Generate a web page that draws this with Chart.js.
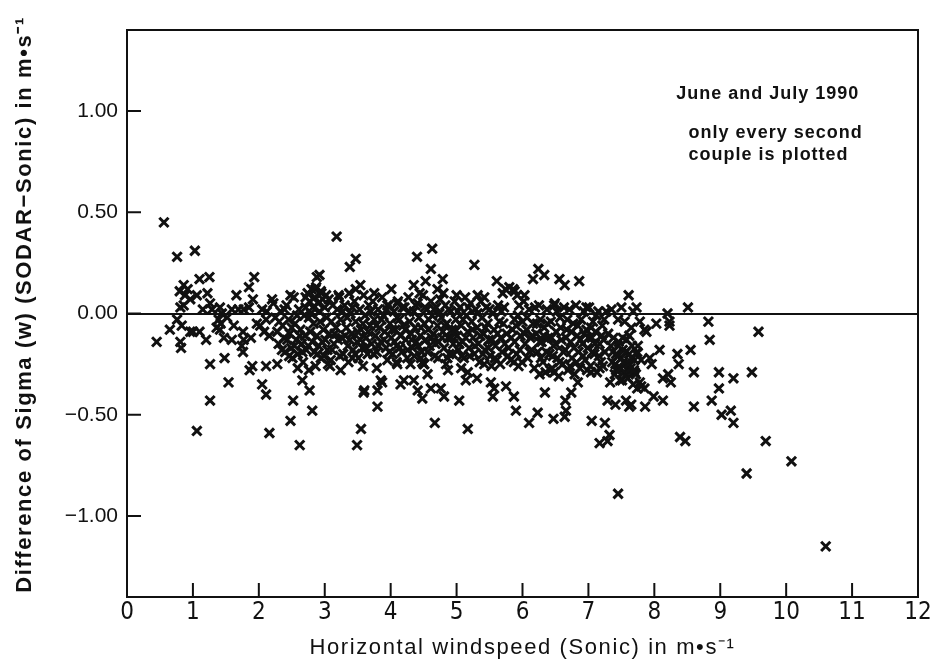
<!DOCTYPE html>
<html>
<head>
<meta charset="utf-8">
<title>Sigma (w) difference against horizontal windspeed</title>
<script src="https://cdn.jsdelivr.net/npm/chart.js@4.4.0/dist/chart.umd.min.js"></script>
<style>
  html, body { margin: 0; padding: 0; background: #fff; }
  canvas { display: block; }
</style>
</head>
<body>
<canvas id="scatterChart" width="933" height="669"></canvas>
<script>
// axis ticks
var windTicks = [0, 1, 2, 3, 4, 5, 6, 7, 8, 9, 10, 11, 12];
var sigmaTicks = [-1, -0.5, 0, 0.5, 1];

// couples [windspeed, sigma(w) SODAR - Sonic], split by windspeed range
var couplesLight = [
    [0.56,0.45],[0.45,-0.14],[0.76,0.28],[1.03,0.31],[1.10,0.17],[1.25,0.18],[0.86,0.14],[0.80,0.11],
    [0.88,0.09],[0.96,0.07],[1.06,0.09],[1.22,0.10],[0.81,0.03],[0.86,0.04],[1.26,0.05],[1.29,0.02],
    [1.41,0.03],[1.44,0.00],[1.39,-0.03],[1.42,-0.05],[1.36,-0.07],[1.41,-0.08],[1.47,-0.12],[1.59,-0.13],
    [1.66,0.09],[1.59,0.02],[1.69,0.02],[1.77,0.02],[1.85,0.03],[1.85,0.13],[1.93,0.18],[1.91,0.07],
    [2.05,0.02],[2.12,0.01],[2.20,0.07],[0.76,-0.03],[0.65,-0.08],[0.83,-0.06],[0.81,-0.14],[0.82,-0.17],
    [0.96,-0.09],[1.00,-0.09],[1.10,-0.09],[1.20,-0.13],[1.76,-0.09],[1.77,-0.13],[1.74,-0.16],[1.76,-0.19],
    [1.26,-0.25],[1.48,-0.22],[1.54,-0.34],[1.26,-0.43],[1.06,-0.58],[1.86,-0.28],[1.90,-0.26],[2.11,-0.26],
    [2.05,-0.35],[2.11,-0.40],[2.16,-0.59],[2.02,-0.06],[2.11,-0.03],[2.16,-0.11],[1.52,-0.02],[1.62,-0.06],
    [1.97,-0.05],[1.88,-0.12],[2.08,-0.09],[0.92,0.12],[1.15,0.02]
];

var couplesModerate = [
    [2.28,-0.25],[2.59,-0.27],[2.76,-0.28],[2.66,-0.33],[2.77,-0.38],[2.52,-0.43],[2.81,-0.48],[2.48,-0.53],
    [2.62,-0.65],[3.09,-0.23],[3.08,-0.26],[3.24,-0.28],[3.42,-0.22],[3.60,-0.38],[3.55,-0.57],[3.49,-0.65],
    [3.79,-0.27],[3.85,-0.33],[3.80,-0.38],[3.80,-0.46],[4.15,-0.35],[4.09,-0.24],[3.87,-0.34],[3.18,0.38],
    [3.47,0.27],[3.38,0.23],[2.88,0.18],[2.92,0.19],[3.54,0.14],[4.01,0.12],[2.48,0.09],[2.71,0.08],
    [2.86,0.12],[2.94,0.11],[3.21,0.09],[3.47,0.12],[3.75,0.10],[3.95,0.04],[4.10,0.05],[3.59,-0.39],
    [2.22,0.05],[2.25,-0.02],[2.28,-0.09],[2.30,-0.15],[2.33,0.01],[2.36,-0.06],[2.38,-0.12],[2.40,-0.19],
    [2.42,0.04],[2.45,-0.03],[2.47,-0.10],[2.49,-0.17],[2.51,-0.22],[2.53,0.08],[2.55,-0.05],[2.57,-0.13],
    [2.59,-0.20],[2.61,0.02],[2.63,-0.08],[2.65,-0.15],[2.67,-0.24],[2.69,-0.01],[2.70,-0.11],[2.72,-0.18],
    [2.74,0.10],[2.77,0.06],[2.80,0.12],[2.82,0.03],[2.85,0.08],[2.87,0.13],[2.90,0.05],[2.92,0.01],
    [2.95,0.10],[2.97,0.07],[3.00,0.03],[3.02,0.09],[2.78,-0.09],[2.81,-0.14],[2.84,-0.19],[2.88,-0.11],
    [2.91,-0.16],[2.94,-0.22],[2.98,-0.08],[3.01,-0.13],[3.04,-0.18],[3.07,-0.10],[3.10,-0.04],[3.12,0.04],
    [3.14,-0.15],[3.17,-0.07],[3.19,0.02],[2.76,-0.02],[3.05,-0.25],[2.86,-0.26],
    [3.22,0.08],[3.24,-0.03],[3.26,-0.12],[3.28,-0.20],[3.30,0.04],[3.33,-0.07],[3.35,-0.16],[3.37,0.10],
    [3.39,0.00],[3.41,-0.10],[3.43,-0.18],[3.45,0.06],[3.47,-0.04],[3.49,-0.14],[3.51,-0.22],[3.53,0.02],
    [3.55,-0.08],[3.57,-0.17],[3.59,0.09],[3.61,-0.01],[3.63,-0.12],[3.65,-0.20],[3.67,0.04],[3.69,-0.06],
    [3.36,-0.24],[3.58,-0.26],
    [3.71,-0.15],[3.73,0.06],[3.75,-0.03],[3.77,-0.11],[3.79,-0.19],[3.81,0.02],[3.83,-0.07],[3.85,-0.14],
    [3.87,0.08],[3.89,-0.01],[3.91,-0.09],[3.93,-0.17],[3.95,-0.23],[3.97,0.04],[3.99,-0.05],[4.01,-0.12],
    [4.03,-0.20],[4.05,0.01],[4.07,-0.08],[4.09,-0.16],[4.11,0.06],[4.13,-0.03],[4.15,-0.11],[4.17,-0.19],
    [4.19,-0.06],
    [2.31,-0.04],[2.35,-0.18],[2.39,0.02],[2.43,-0.13],[2.46,-0.21],[2.50,-0.07],[2.54,-0.16],[2.58,-0.01],
    [2.62,-0.11],[2.66,-0.19],[2.71,0.03],[2.75,-0.16],[2.79,0.00],[2.83,-0.05],[2.89,-0.20],[2.93,-0.04],
    [2.96,-0.14],[2.99,-0.21],[3.03,-0.02],[3.06,0.07],[3.11,-0.18],[3.15,-0.10],[3.20,-0.13],[3.23,-0.21],
    [3.27,0.01],[3.31,-0.11],[3.34,-0.02],[3.38,-0.13],[3.42,0.03],[3.46,-0.20],[3.50,-0.09],[3.54,-0.13],
    [3.58,-0.05],[3.62,-0.17],[3.66,-0.09],[3.70,0.01],[3.74,-0.20],[3.78,-0.06],[3.82,-0.16],[3.86,-0.03],
    [3.90,-0.13],[3.94,0.02],[3.98,-0.19],[4.02,-0.08],[4.06,-0.14],[4.10,-0.02],[4.14,-0.17],[4.18,0.03]
];

var couplesFresh = [
    [4.63,0.32],[4.40,0.28],[4.61,0.22],[5.27,0.24],[4.53,0.16],[4.79,0.17],[5.61,0.16],[4.35,0.14],
    [4.71,0.12],[5.32,0.09],[5.88,0.11],[4.10,-0.25],[4.20,-0.33],[4.35,-0.33],[4.41,-0.38],[4.48,-0.42],
    [4.56,-0.30],[4.61,-0.37],[4.76,-0.37],[4.81,-0.41],[4.84,-0.25],[4.87,-0.28],[5.04,-0.43],[5.14,-0.33],
    [5.31,-0.32],[4.67,-0.54],[5.17,-0.57],[5.52,-0.34],[5.57,-0.37],[5.55,-0.41],[5.75,-0.36],[5.87,-0.41],
    [5.90,-0.48],[4.46,-0.22],[4.51,-0.25],[5.07,-0.27],[5.17,-0.29],[5.42,-0.25],[6.10,-0.54],[6.03,0.09],
    [6.16,0.17],
    [4.21,0.03],[4.23,-0.13],[4.25,-0.22],[4.27,0.08],[4.29,-0.04],[4.31,-0.10],[4.33,-0.17],[4.35,0.01],
    [4.37,-0.07],[4.39,-0.14],[4.41,0.05],[4.43,-0.02],[4.45,-0.11],[4.47,-0.19],[4.49,0.09],[4.51,-0.05],
    [4.53,-0.13],[4.55,0.02],[4.57,-0.08],[4.59,-0.16],[4.61,0.06],[4.63,-0.01],[4.65,-0.10],[4.67,-0.21],
    [4.69,0.03],[4.30,-0.25],[4.50,-0.25],[4.44,0.10],
    [4.71,-0.06],[4.73,-0.14],[4.75,0.07],[4.77,-0.02],[4.79,-0.09],[4.81,-0.17],[4.83,0.04],[4.85,-0.05],
    [4.87,-0.12],[4.89,-0.20],[4.91,0.01],[4.93,-0.08],[4.95,-0.15],[4.97,0.06],[4.99,-0.03],[5.01,-0.11],
    [5.03,-0.18],[5.05,0.03],[5.07,-0.06],[5.09,-0.14],[5.11,-0.22],[5.13,0.08],[5.15,-0.01],[5.17,-0.09],
    [5.19,-0.17],[4.80,0.10],[5.00,0.09],
    [5.21,0.05],[5.23,-0.04],[5.25,-0.12],[5.27,-0.20],[5.29,0.02],[5.31,-0.07],[5.33,-0.15],[5.35,-0.24],
    [5.37,0.06],[5.39,-0.02],[5.41,-0.10],[5.43,-0.18],[5.45,0.03],[5.47,-0.05],[5.49,-0.13],[5.51,-0.21],
    [5.53,-0.26],[5.55,0.00],[5.57,-0.08],[5.59,-0.16],[5.61,-0.23],[5.63,0.04],[5.65,-0.04],[5.67,-0.12],
    [5.69,-0.19],[5.42,0.08],
    [5.70,0.10],[5.74,0.12],[5.80,0.13],[5.86,0.12],[5.92,0.09],[5.95,0.04],[5.93,-0.01],[5.88,-0.03],
    [5.72,0.03],[5.71,-0.05],[5.76,-0.10],[5.79,-0.17],[5.82,-0.23],[5.85,-0.08],[5.88,-0.14],[5.91,-0.20],
    [5.94,-0.26],[5.97,-0.11],[6.00,-0.04],[6.02,0.06],[6.04,-0.15],[6.06,-0.08],[6.08,-0.22],[6.10,0.02],
    [6.12,-0.12],[6.14,-0.18],[6.16,-0.05],[6.18,-0.27],[6.19,0.03],
    [4.22,-0.08],[4.26,-0.18],[4.28,0.01],[4.32,-0.13],[4.36,-0.21],[4.38,0.04],[4.42,-0.16],[4.46,-0.07],
    [4.48,-0.24],[4.52,0.03],[4.56,-0.19],[4.58,-0.03],[4.62,-0.12],[4.66,0.02],[4.68,-0.15],[4.72,-0.22],
    [4.74,0.00],[4.78,-0.12],[4.82,-0.06],[4.86,-0.22],[4.88,0.02],[4.92,-0.12],[4.94,-0.20],[4.98,-0.08],
    [5.02,0.01],[5.04,-0.15],[5.08,-0.21],[5.10,-0.03],[5.14,-0.12],[5.18,0.03],[5.20,-0.21],[5.24,-0.08],
    [5.28,-0.16],[5.32,0.00],[5.36,-0.11],[5.40,-0.20],[5.44,-0.07],[5.48,-0.17],[5.50,0.02],[5.54,-0.13],
    [5.58,-0.22],[5.62,-0.10],[5.66,-0.25],[5.68,0.01],[5.73,-0.15],[5.78,-0.21],[5.83,-0.12],[5.87,-0.24],
    [5.90,-0.06],[5.96,-0.18],[5.99,-0.24],[6.03,-0.10],[6.07,-0.02],[6.11,-0.19],[6.15,-0.11]
];

var couplesStrong = [
    [6.24,0.22],[6.33,0.19],[6.56,0.17],[6.64,0.14],[6.86,0.16],[7.61,0.09],[7.50,0.03],[7.73,0.03],
    [6.48,0.04],[6.97,0.03],[7.27,0.01],[6.23,-0.49],[6.34,-0.39],[6.47,-0.52],[6.64,-0.51],[6.66,-0.48],
    [6.65,-0.43],[6.74,-0.39],[6.84,-0.34],[7.05,-0.53],[7.25,-0.54],[7.32,-0.60],[7.29,-0.63],[7.17,-0.64],
    [7.33,-0.34],[7.51,-0.33],[7.29,-0.43],[7.41,-0.45],[7.57,-0.43],[7.62,-0.46],[7.74,-0.37],[6.26,-0.30],
    [6.48,-0.29],[7.04,-0.29],[7.17,-0.27],[7.42,-0.28],[7.62,-0.29],[7.45,-0.16],[7.52,-0.12],[7.62,-0.11],
    [7.45,-0.89],
    [6.21,-0.10],[6.23,-0.19],[6.25,0.04],[6.27,-0.03],[6.29,-0.14],[6.31,-0.24],[6.33,-0.07],[6.35,-0.29],
    [6.37,0.02],[6.39,-0.12],[6.41,-0.20],[6.43,-0.04],[6.45,-0.27],[6.47,-0.16],[6.49,0.05],[6.51,-0.09],
    [6.53,-0.22],[6.55,-0.31],[6.57,-0.02],[6.59,-0.13],[6.61,-0.25],[6.63,0.03],[6.65,-0.18],[6.67,-0.08],
    [6.69,-0.28],
    [6.71,0.02],[6.73,-0.14],[6.75,-0.22],[6.77,-0.05],[6.79,-0.30],[6.81,0.04],[6.83,-0.11],[6.85,-0.19],
    [6.87,-0.27],[6.89,-0.03],[6.91,-0.15],[6.93,0.01],[6.95,-0.23],[6.97,-0.08],[6.99,-0.17],[7.01,0.03],
    [7.03,-0.26],[7.05,-0.12],[7.07,-0.04],[7.09,-0.20],[7.11,-0.09],[7.13,-0.29],[7.15,0.01],[7.17,-0.15],
    [7.19,-0.24],[7.21,-0.06],[7.23,-0.13],[7.25,-0.19],
    [7.34,-0.16],[7.36,-0.24],[7.38,-0.12],[7.40,-0.30],[7.42,-0.20],[7.44,-0.27],[7.46,-0.14],[7.48,-0.33],
    [7.50,-0.22],[7.52,-0.18],[7.54,-0.29],[7.56,-0.25],[7.58,-0.13],[7.60,-0.32],[7.62,-0.20],[7.64,-0.27],
    [7.66,-0.16],[7.68,-0.35],[7.70,-0.23],[7.72,-0.30],[7.35,0.02],[7.55,-0.04],[7.65,-0.07],[7.45,-0.03],
    [6.22,-0.05],[6.26,-0.14],[6.28,-0.22],[6.32,-0.11],[6.36,-0.19],[6.38,-0.05],[6.42,-0.28],[6.44,-0.12],
    [6.46,-0.21],[6.50,-0.15],[6.52,0.01],[6.56,-0.24],[6.58,-0.07],[6.62,-0.19],[6.66,-0.12],[6.68,-0.03],
    [6.72,-0.26],[6.74,-0.09],[6.78,-0.17],[6.82,-0.24],[6.84,-0.06],[6.88,-0.13],[6.92,-0.21],[6.94,-0.10],
    [6.98,-0.28],[7.00,-0.12],[7.04,-0.07],[7.06,-0.19],[7.10,-0.15],[7.12,-0.01],[7.16,-0.21],[7.20,-0.11],
    [7.22,-0.26],[7.24,-0.03],[7.30,-0.10],[7.37,-0.19],[7.41,-0.25],[7.45,-0.21],[7.49,-0.27],[7.53,-0.24],
    [7.57,-0.19],[7.61,-0.25],[7.65,-0.22],[7.69,-0.28],[7.73,-0.20]
];

var couplesGale = [
    [8.51,0.03],[8.20,0.00],[8.82,-0.04],[8.84,-0.13],[9.58,-0.09],[8.03,-0.05],[8.23,-0.04],[8.23,-0.06],
    [7.78,-0.04],[7.85,-0.08],[8.08,-0.18],[8.35,-0.20],[8.55,-0.18],[8.37,-0.25],[8.60,-0.29],[8.98,-0.29],
    [9.20,-0.32],[9.48,-0.29],[8.98,-0.37],[8.87,-0.43],[8.60,-0.46],[9.02,-0.50],[9.16,-0.48],[9.20,-0.54],
    [8.39,-0.61],[8.47,-0.63],[9.40,-0.79],[7.65,-0.45],[7.86,-0.46],[8.13,-0.43],[7.75,-0.16],[7.74,-0.19],
    [7.80,-0.23],[7.93,-0.22],[7.96,-0.25],[7.70,-0.29],[7.78,-0.34],[7.80,-0.36],[7.85,-0.37],[7.99,-0.41],
    [8.13,-0.32],[8.21,-0.30],[8.25,-0.34],[7.68,0.01],[9.69,-0.63],[10.08,-0.73],[10.60,-1.15],[7.88,-0.09]
];

var noteTitle = 'June and July 1990';
var noteLines = ['only every second', 'couple is plotted'];
var xTitle = 'Horizontal windspeed (Sonic) in m\u2022s\u207B\u00B9';
var yTitle = 'Difference of Sigma (w) (SODAR\u2212Sonic) in m\u2022s\u207B\u00B9';

var ink = '#111';
var sansFamily = '"Liberation Sans", Arial, sans-serif';

function sigmaLabel(v) {
    return (v < 0 ? '\u2212' : '') + Math.abs(v).toFixed(2);
}

// box, inward tick marks, spaced-out axis titles and the note in the upper right
var frameAndNotes = {
    id: 'frameAndNotes',
    afterDatasetsDraw: function(chart) {
        var ctx = chart.ctx;
        var area = chart.chartArea;
        var xs = chart.scales.x;
        var ys = chart.scales.y;

        ctx.save();
        ctx.strokeStyle = ink;
        ctx.lineWidth = 2;
        ctx.strokeRect(area.left, area.top, area.right - area.left, area.bottom - area.top);

        ctx.beginPath();
        windTicks.forEach(function(v) {
            if (v <= xs.min || v >= xs.max) return;
            var px = xs.getPixelForValue(v);
            ctx.moveTo(px, area.bottom);
            ctx.lineTo(px, area.bottom - 14);
        });
        sigmaTicks.forEach(function(v) {
            var py = ys.getPixelForValue(v);
            ctx.moveTo(area.left, py);
            ctx.lineTo(area.left + 14, py);
        });
        ctx.stroke();

        ctx.fillStyle = ink;
        ctx.textBaseline = 'middle';

        // axis titles
        ctx.textAlign = 'center';
        ctx.font = '22px ' + sansFamily;
        ctx.letterSpacing = '1.6px';
        ctx.fillText(xTitle, (area.left + area.right) / 2, chart.height - 21);

        ctx.save();
        ctx.translate(25, (area.top + area.bottom) / 2 - 9);
        ctx.rotate(-Math.PI / 2);
        ctx.font = 'bold 22px ' + sansFamily;
        ctx.letterSpacing = '1.6px';
        ctx.fillText(yTitle, 0, 0);
        ctx.restore();

        // note
        ctx.font = 'bold 18px ' + sansFamily;
        ctx.letterSpacing = '1px';
        ctx.textAlign = 'center';
        ctx.fillText(noteTitle, xs.getPixelForValue(9.72), ys.getPixelForValue(1.086));
        ctx.textAlign = 'left';
        ctx.fillText(noteLines[0], xs.getPixelForValue(8.52), ys.getPixelForValue(0.889));
        ctx.fillText(noteLines[1], xs.getPixelForValue(8.52), ys.getPixelForValue(0.781));
        ctx.restore();
    }
};

var pointStyle = {
    pointStyle: 'crossRot',
    pointRadius: 6.5,
    borderWidth: 3,
    borderColor: ink,
    backgroundColor: ink
};

var ctx = document.getElementById('scatterChart').getContext('2d');
var scatterChart = new Chart(ctx, {
    type: 'scatter',
    data: {
        datasets: [couplesLight, couplesModerate, couplesFresh, couplesStrong, couplesGale].map(function(d) {
            return Object.assign({ data: d }, pointStyle);
        })
    },
    options: {
        responsive: false,
        animation: false,
        events: [],
        layout: { padding: { top: 30, right: 15, bottom: 0, left: 0 } },
        plugins: {
            legend: { display: false },
            tooltip: { enabled: false }
        },
        scales: {
            x: {
                type: 'linear',
                min: 0,
                max: 12,
                afterBuildTicks: function(s) {
                    s.ticks = windTicks.map(function(v) { return { value: v }; });
                },
                afterFit: function(s) { s.height = 72; },
                grid: { display: false, drawTicks: false },
                border: { display: false },
                ticks: {
                    color: ink,
                    font: { family: '"Liberation Sans Narrow", "DejaVu Sans Condensed", ' + sansFamily, size: 24 },
                    padding: 1,
                    maxRotation: 0,
                    autoSkip: false
                }
            },
            y: {
                type: 'linear',
                min: -1.4,
                max: 1.4,
                afterBuildTicks: function(s) {
                    s.ticks = sigmaTicks.map(function(v) { return { value: v }; });
                },
                afterFit: function(s) { s.width = 127; },
                grid: {
                    drawTicks: false,
                    lineWidth: 2,
                    color: function(c) {
                        return c.tick && c.tick.value === 0 ? ink : 'rgba(0,0,0,0)';
                    }
                },
                border: { display: false },
                ticks: {
                    color: ink,
                    font: { family: sansFamily, size: 21 },
                    padding: 9,
                    callback: sigmaLabel
                }
            }
        }
    },
    plugins: [frameAndNotes]
});
</script>
</body>
</html>
